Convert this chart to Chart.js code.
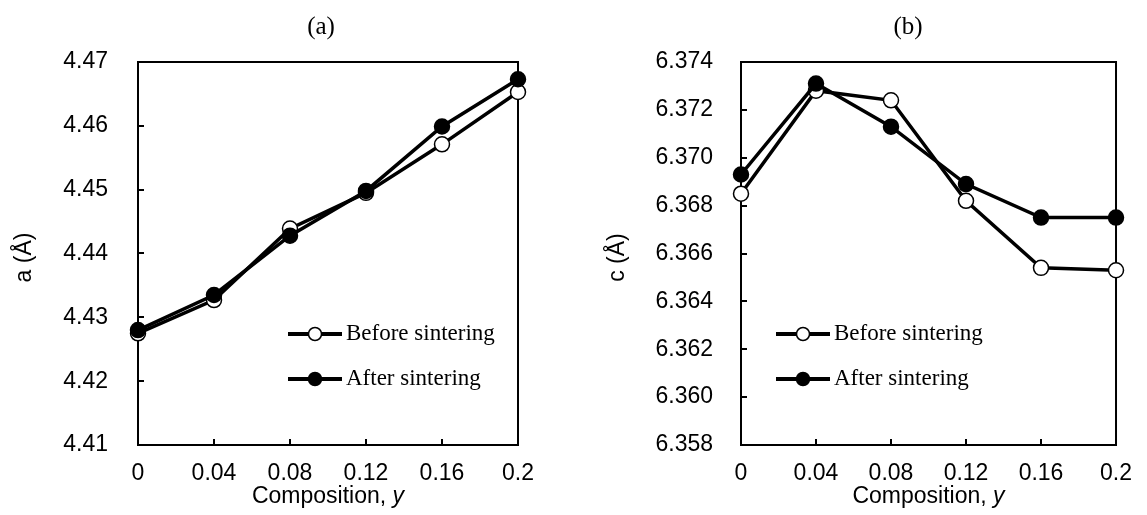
<!DOCTYPE html>
<html>
<head>
<meta charset="utf-8">
<script src="https://cdn.jsdelivr.net/npm/chart.js@4/dist/chart.umd.min.js"></script>
<style>
  html, body { margin: 0; padding: 0; background: #fff; }
  #wrap { position: relative; width: 1147px; height: 515px; }
  .panel { position: absolute; top: 0; height: 515px; }
</style>
</head>
<body>
<div id="wrap">
  <div class="panel" style="left:0;width:573px"><canvas id="chartA"></canvas></div>
  <div class="panel" style="left:573px;width:574px"><canvas id="chartC"></canvas></div>
</div>
<script>
// composition y
const compY = [0, 0.04, 0.08, 0.12, 0.16, 0.2];
const xTicks = [0, 0.04, 0.08, 0.12, 0.16, 0.2];
const seriesNames = ['Before sintering', 'After sintering'];

// lattice parameter a (Å)
const aBefore = [4.4275, 4.4327, 4.4439, 4.4495, 4.4571, 4.4653];
const aAfter  = [4.4280, 4.4335, 4.4428, 4.4498, 4.4599, 4.4673];
const aTicks  = [4.41, 4.42, 4.43, 4.44, 4.45, 4.46, 4.47];

// lattice parameter c (Å)
const cBefore = [6.3685, 6.3728, 6.3724, 6.3682, 6.3654, 6.3653];
const cAfter  = [6.3693, 6.3731, 6.3713, 6.3689, 6.3675, 6.3675];
const cTicks  = [6.358, 6.360, 6.362, 6.364, 6.366, 6.368, 6.370, 6.372, 6.374];

const SANS = 'Liberation Sans, Arial, sans-serif';
const SERIF = 'Liberation Serif, Times New Roman, serif';

// frame, inward ticks, titles, legend
const panelDecor = {
  id: 'panelDecor',
  beforeDatasetsDraw(chart, args, o) {
    const { ctx, chartArea: a, scales: { x, y } } = chart;
    ctx.save();
    ctx.strokeStyle = '#000';
    ctx.lineWidth = 2;
    ctx.strokeRect(a.left, a.top, a.right - a.left, a.bottom - a.top);
    ctx.beginPath();
    o.yTicks.forEach(v => {
      const py = Math.round(y.getPixelForValue(v));
      ctx.moveTo(a.left, py); ctx.lineTo(a.left + 6, py);
    });
    xTicks.forEach(v => {
      const px = Math.round(x.getPixelForValue(v));
      ctx.moveTo(px, a.bottom); ctx.lineTo(px, a.bottom - 6);
    });
    ctx.stroke();
    ctx.restore();
  },
  afterDraw(chart, args, o) {
    const { ctx, chartArea: a } = chart;
    ctx.save();
    ctx.fillStyle = '#000';

    // panel label
    ctx.font = '25px ' + SERIF;
    ctx.textAlign = 'center';
    ctx.textBaseline = 'middle';
    ctx.fillText(o.label, o.labelX, 27);

    // x title with italic y
    ctx.font = '23px ' + SANS;
    const t1 = 'Composition, ';
    const w1 = ctx.measureText(t1).width;
    ctx.font = 'italic 23px ' + SANS;
    const w2 = ctx.measureText('y').width;
    const cx = (a.left + a.right) / 2;
    let sx = cx - (w1 + w2) / 2;
    ctx.textAlign = 'left';
    ctx.font = '23px ' + SANS;
    ctx.fillText(t1, sx, 497);
    ctx.font = 'italic 23px ' + SANS;
    ctx.fillText('y', sx + w1, 497);

    // y title
    ctx.save();
    ctx.translate(o.yTitleX, (a.top + a.bottom) / 2 + 4);
    ctx.rotate(-Math.PI / 2);
    ctx.font = '23px ' + SANS;
    ctx.textAlign = 'center';
    ctx.fillText(o.yTitle, 0, 0);
    ctx.restore();

    // legend
    chart.data.datasets.forEach((ds, i) => {
      const ly = o.legendY[i];
      ctx.strokeStyle = '#000';
      ctx.lineWidth = 4;
      ctx.beginPath();
      ctx.moveTo(o.legendX, ly);
      ctx.lineTo(o.legendX + 54, ly);
      ctx.stroke();
      ctx.beginPath();
      ctx.arc(o.legendX + 27, ly, 6.5, 0, Math.PI * 2);
      ctx.fillStyle = ds.pointBackgroundColor;
      ctx.fill();
      ctx.lineWidth = 1.5;
      ctx.stroke();
      ctx.fillStyle = '#000';
      ctx.font = '23px ' + SERIF;
      ctx.textAlign = 'left';
      ctx.textBaseline = 'middle';
      ctx.fillText(ds.label, o.legendX + 58, ly);
    });
    ctx.restore();
  }
};

function makeChart(id, before, after, yTicks, digits, p) {
  const pts = vals => compY.map((v, i) => ({ x: v, y: vals[i] }));
  const series = (name, vals, fill, order) => ({
    label: name,
    data: pts(vals),
    borderColor: '#000',
    borderWidth: 3.5,
    pointRadius: 7.5,
    pointHoverRadius: 7.5,
    pointBorderWidth: 1.5,
    pointBorderColor: '#000',
    pointBackgroundColor: fill,
    tension: 0,
    clip: false,
    order: order
  });
  return new Chart(document.getElementById(id), {
    type: 'line',
    data: {
      datasets: [
        series(seriesNames[0], before, '#fff', 2),
        series(seriesNames[1], after, '#000', 1)
      ]
    },
    options: {
      responsive: true,
      maintainAspectRatio: false,
      animation: false,
      layout: { padding: { top: 62, right: p.padRight, bottom: 0, left: 0 } },
      plugins: {
        legend: { display: false },
        tooltip: { enabled: false },
        panelDecor: p
      },
      scales: {
        x: {
          type: 'linear',
          min: 0,
          max: 0.2,
          afterBuildTicks: s => { s.ticks = xTicks.map(v => ({ value: v })); },
          afterFit: s => { s.height = 70; },
          grid: { display: false, drawTicks: false },
          border: { display: false },
          ticks: {
            color: '#000',
            font: { family: SANS, size: 23 },
            padding: 15,
            maxRotation: 0,
            callback: v => String(parseFloat(v.toFixed(2)))
          }
        },
        y: {
          min: yTicks[0],
          max: yTicks[yTicks.length - 1],
          afterBuildTicks: s => { s.ticks = yTicks.map(v => ({ value: v })); },
          afterFit: s => { s.width = p.yWidth; },
          grid: { display: false, drawTicks: false },
          border: { display: false },
          ticks: {
            color: '#000',
            font: { family: SANS, size: 23 },
            padding: p.tickPad,
            callback: v => v.toFixed(digits)
          }
        }
      }
    },
    plugins: [panelDecor]
  });
}

makeChart('chartA', aBefore, aAfter, aTicks, 2, {
  label: '(a)', labelX: 321, yTitle: 'a (Å)', yTitleX: 25,
  yTicks: aTicks, yWidth: 138, tickPad: 30, padRight: 55,
  legendX: 288, legendY: [334, 379]
});
makeChart('chartC', cBefore, cAfter, cTicks, 3, {
  label: '(b)', labelX: 335, yTitle: 'c (Å)', yTitleX: 45,
  yTicks: cTicks, yWidth: 168, tickPad: 28, padRight: 26,
  legendX: 203, legendY: [334, 379]
});
</script>
</body>
</html>
